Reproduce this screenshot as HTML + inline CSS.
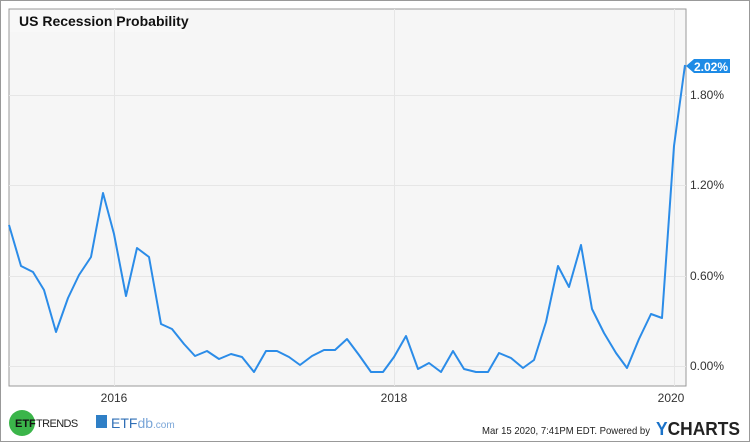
<!DOCTYPE html>
<html><head><meta charset="utf-8"><style>
html,body{margin:0;padding:0;background:#fff}
body{width:750px;height:442px;position:relative;overflow:hidden;font-family:"Liberation Sans",sans-serif}
</style></head><body>
<svg width="750" height="442" xmlns="http://www.w3.org/2000/svg" style="position:absolute;left:0;top:0">
<rect x="0.5" y="0.5" width="749" height="441" fill="#fff" stroke="#999"/>
<rect x="9" y="9" width="677" height="377" fill="#f6f6f6" stroke="#999" stroke-width="1"/>
<rect x="10" y="10" width="175" height="22" fill="#f8f8f8"/>
<g stroke="#e6e6e6" stroke-width="1">
<line x1="114.5" y1="9" x2="114.5" y2="386"/>
<line x1="394.5" y1="9" x2="394.5" y2="386"/>
<line x1="674.5" y1="9" x2="674.5" y2="386"/>
<line x1="9" y1="95.5" x2="686" y2="95.5"/>
<line x1="9" y1="185.5" x2="686" y2="185.5"/>
<line x1="9" y1="276.5" x2="686" y2="276.5"/>
<line x1="9" y1="366.5" x2="686" y2="366.5"/>
</g>
<text x="19" y="26" font-size="14" font-weight="bold" fill="#111">US Recession Probability</text>
<polyline fill="none" stroke="#2b8ce8" stroke-width="2" stroke-linejoin="round" points="9,225 21,266 33,272 44,290 56,332 68,298 79,275 91,257 103,193 114,234 126,296 137,248 149,257 161,324 172,329 184,344 195,356 207,351 219,359 231,354 242,357 254,372 266,351 277,351 289,357 300,365 312,356 324,350 335,350 347,339 359,355 371,372 383,372 394,357 406,336 418,369 429,363 441,372 453,351 464,369 476,372 488,372 499,353 511,358 523,368 534,360 546,322 558,266 569,287 581,245 592,309 604,333 616,353 627,368 639,339 651,314 662,318 674,146 685,65"/>
<path d="M686,66 L694,59 L730,59 L730,73 L694,73 Z" fill="#1e8be6"/>
<text x="694" y="71" font-size="12" font-weight="bold" fill="#fff">2.02%</text>
<g font-size="12" fill="#333">
<text x="690" y="99">1.80%</text>
<text x="690" y="189">1.20%</text>
<text x="690" y="280">0.60%</text>
<text x="690" y="370">0.00%</text>
<text x="114" y="402" text-anchor="middle">2016</text>
<text x="394" y="402" text-anchor="middle">2018</text>
<text x="671" y="402" text-anchor="middle">2020</text>
</g>
<circle cx="22" cy="423" r="13" fill="#3bb54a"/>
<text x="15" y="427" font-size="11" font-weight="bold" fill="#111">ETF</text>
<text x="36" y="427" font-size="11" fill="#222" letter-spacing="-0.6">TRENDS</text>
<rect x="96" y="415" width="11" height="13" fill="#2f7fc6"/>
<text x="111" y="428" font-size="14" fill="#2f6fb6">ETF<tspan fill="#7aa6d8">db</tspan><tspan font-size="10" fill="#7aa6d8">.com</tspan></text>
<text x="650" y="434" font-size="10.5" fill="#222" text-anchor="end" textLength="168" lengthAdjust="spacingAndGlyphs">Mar 15 2020, 7:41PM EDT.  Powered by</text>
<text x="656" y="435" font-size="18" font-weight="bold" fill="#1a72c9" textLength="84" lengthAdjust="spacingAndGlyphs">Y<tspan fill="#222">CHARTS</tspan></text>
</svg>
</body></html>
